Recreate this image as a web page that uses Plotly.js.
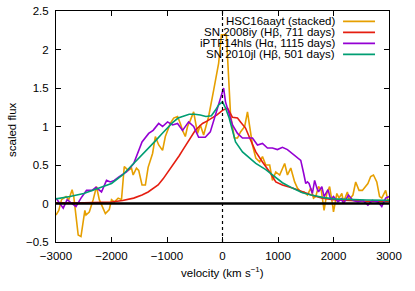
<!DOCTYPE html>
<html>
<head>
<meta charset="utf-8">
<script src="https://cdn.plot.ly/plotly-3.0.1.min.js"></script>
<style>html,body{margin:0;padding:0;background:#fff}#chart{width:415px;height:291px}</style>
</head>
<body>
<div id="chart"></div>
<script>
// HSC16aayt (stacked)
const hscX = [-3000,-2950,-2900,-2820,-2770,-2710,-2680,-2640,-2600,-2550,-2500,-2480,-2460,-2400,-2330,-2270,-2220,-2170,-2110,-2040,-2000,-1950,-1880,-1820,-1770,-1700,-1640,-1610,-1550,-1510,-1450,-1390,-1340,-1260,-1210,-1150,-1080,-1030,-940,-880,-810,-760,-720,-670,-630,-580,-520,-450,-400,-340,-250,-160,-70,-20,70,110,145,215,270,325,400,450,490,540,600,670,720,780,850,900,960,1030,1120,1170,1230,1300,1350,1410,1470,1530,1590,1640,1680,1730,1780,1830,1880,1930,1980,2000,2060,2100,2150,2180,2250,2280,2350,2400,2460,2520,2620,2670,2720,2780,2830,2870,2940,2980,3000];
const hscY = [-0.15,-0.09,0.05,0.09,0.05,0.18,0.09,-0.17,-0.41,-0.43,-0.22,-0.09,-0.15,-0.11,0.05,0.22,0.05,-0.04,-0.13,-0.08,0.05,0.02,0.07,0.05,0.48,0.43,0.46,0.37,0.46,0.43,0.24,0.24,0.47,0.65,0.87,0.76,0.69,0.87,1.04,1.11,1.13,1.04,0.95,0.87,1.0,1.08,1.19,0.91,1.02,0.89,1.13,1.47,1.82,2.19,2.19,1.64,1.15,0.85,0.85,0.93,1.0,1.19,1.02,0.76,0.59,0.54,0.61,0.5,0.5,0.3,0.41,0.37,0.52,0.37,0.46,0.28,0.2,0.15,0.15,0.11,0.2,0.07,0.09,0.22,0.17,-0.09,0.13,0.22,0.0,-0.11,0.13,0.07,0.13,0.02,0.15,0.05,0.11,0.28,0.17,0.17,0.26,0.35,0.37,0.28,0.09,0.07,0.17,0.04,0.05];

// SN 2008iy (Hβ, 711 days)
const sn08X = [-3000,-2500,-2000,-1800,-1600,-1450,-1340,-1250,-1160,-1070,-980,-900,-850,-780,-720,-660,-610,-550,-490,-420,-360,-280,-180,-100,0,90,180,270,325,415,490,600,720,850,960,1080,1260,1450,1600,1800,2000,2300,2600,3000];
const sn08Y = [0.01,0.01,0.02,0.04,0.07,0.11,0.15,0.19,0.24,0.32,0.41,0.5,0.54,0.62,0.69,0.76,0.82,0.89,0.95,1.0,1.04,1.07,1.11,1.15,1.21,1.24,1.12,1.11,1.06,0.98,0.85,0.67,0.54,0.41,0.28,0.24,0.2,0.15,0.11,0.07,0.05,0.04,0.03,0.03];

// iPTF14hls (Hα, 1115 days)
const iptfX = [-3000,-2870,-2800,-2640,-2550,-2450,-2350,-2280,-2180,-2090,-2020,-1950,-1860,-1730,-1600,-1520,-1450,-1330,-1250,-1150,-1080,-990,-900,-810,-720,-610,-520,-430,-310,-220,-160,-70,20,54,120,180,270,360,450,540,630,720,810,900,990,1080,1170,1260,1350,1410,1460,1500,1530,1560,1620,1660,1700,1730,1790,1830,1900,1950,2000,2080,2140,2180,2270,2350,2440,2530,2620,2700,2800,2870,2940,3000];
const iptfY = [0.07,-0.06,0.05,-0.04,0.07,0.17,0.17,0.21,0.15,0.3,0.28,0.3,0.35,0.41,0.52,0.67,0.8,0.91,0.95,1.04,1.0,1.06,1.02,1.04,0.95,1.06,1.0,0.86,0.86,0.93,1.08,1.3,1.5,1.32,1.15,1.02,0.91,0.85,0.85,0.85,0.76,0.78,0.72,0.72,0.7,0.73,0.7,0.65,0.6,0.56,0.4,0.26,0.28,0.26,0.13,0.3,0.2,0.15,0.22,0.09,0.18,0.05,0.09,0.02,0.06,0.0,0.11,0.04,0.02,0.04,-0.02,0.04,0.02,-0.04,0.07,0.09];

// SN 2010jl (Hβ, 501 days)
const sn10X = [-3000,-2750,-2500,-2250,-2000,-1800,-1650,-1500,-1350,-1200,-1100,-1000,-900,-800,-700,-600,-500,-400,-300,-200,-130,-70,0,54,120,180,235,360,490,600,780,900,1080,1260,1440,1600,1800,2000,2300,2600,3000];
const sn10Y = [0.06,0.09,0.13,0.19,0.26,0.37,0.48,0.6,0.71,0.82,0.9,0.98,1.05,1.11,1.14,1.16,1.16,1.15,1.13,1.14,1.21,1.28,1.32,1.24,1.11,0.93,0.8,0.67,0.59,0.52,0.44,0.37,0.27,0.2,0.14,0.11,0.08,0.06,0.05,0.045,0.04];

const names = ['HSC16aayt (stacked)','SN 2008iy (Hβ, 711 days)','iPTF14hls (Hα, 1115 days)','SN 2010jl (Hβ, 501 days)'];
const colors = ['#e69f00','#e51e10','#9400d3','#009e73'];
const xTicks = [-3000,-2000,-1000,0,1000,2000,3000];
const yTicks = [-0.5,0,0.5,1,1.5,2,2.5];
const yTickText = ['−0.5','0','0.5','1','1.5','2','2.5'];
const xRange = [-3000,3000];
const yRange = [-0.5,2.5];
const refVelocity = 0;
const refFlux = 0;
const xTitle = 'velocity (km s<sup>−1</sup>)';
const yTitle = 'scaled flux';

const series = [[hscX,hscY],[sn08X,sn08Y],[iptfX,iptfY],[sn10X,sn10Y]];
const traces = series.map((s,i)=>({
  x:s[0], y:s[1], type:'scatter', mode:'lines', name:names[i],
  line:{color:colors[i], width:1.6}, showlegend:false, hoverinfo:'skip'
}));

const font = {family:'"Liberation Sans", Arial, sans-serif', size:11.5, color:'#000'};
const shapes = [
  {type:'line', xref:'x', yref:'paper', x0:refVelocity, x1:refVelocity, y0:0, y1:1, layer:'above', line:{color:'#000', width:1.2, dash:'3px,3px'}},
  {type:'line', xref:'paper', yref:'y', x0:0, x1:1, y0:refFlux, y1:refFlux, layer:'above', line:{color:'#000', width:2.6}}
];
const annotations = [
  {xref:'paper', yref:'paper', x:-0.132, y:0.485, xanchor:'center', yanchor:'middle', textangle:-90, text:yTitle, showarrow:false, font:font},
  {xref:'paper', yref:'paper', x:0.5, y:-0.13, xanchor:'center', yanchor:'middle', text:xTitle, showarrow:false, font:font}
];
const legTop = 0.955, legStep = 0.0476;
names.forEach((n,i)=>{
  const yy = legTop - i*legStep;
  annotations.push({xref:'paper', yref:'paper', x:0.843, y:yy, xanchor:'right', yanchor:'middle', text:n, showarrow:false, font:font});
  shapes.push({type:'line', xref:'paper', yref:'paper', x0:0.862, x1:0.958, y0:yy, y1:yy, line:{color:colors[i], width:1.6}});
});

const layout = {
  width:415, height:291,
  margin:{l:56, r:26, t:11, b:49},
  paper_bgcolor:'#fff', plot_bgcolor:'#fff',
  font:font, showlegend:false,
  xaxis:{range:xRange, tickvals:xTicks, ticks:'inside', ticklen:5, tickcolor:'#000', tickwidth:1,
    showline:true, linecolor:'#000', linewidth:1, mirror:'ticks', showgrid:false, zeroline:false,
    automargin:false, ticklabelstandoff:3},
  yaxis:{range:yRange, tickvals:yTicks, ticktext:yTickText, ticks:'inside', ticklen:5, tickcolor:'#000', tickwidth:1,
    showline:true, linecolor:'#000', linewidth:1, mirror:'ticks', showgrid:false, zeroline:false,
    automargin:false, ticklabelstandoff:4},
  shapes:shapes, annotations:annotations
};
Plotly.newPlot('chart', traces, layout, {staticPlot:true, displayModeBar:false});
</script>
</body>
</html>
